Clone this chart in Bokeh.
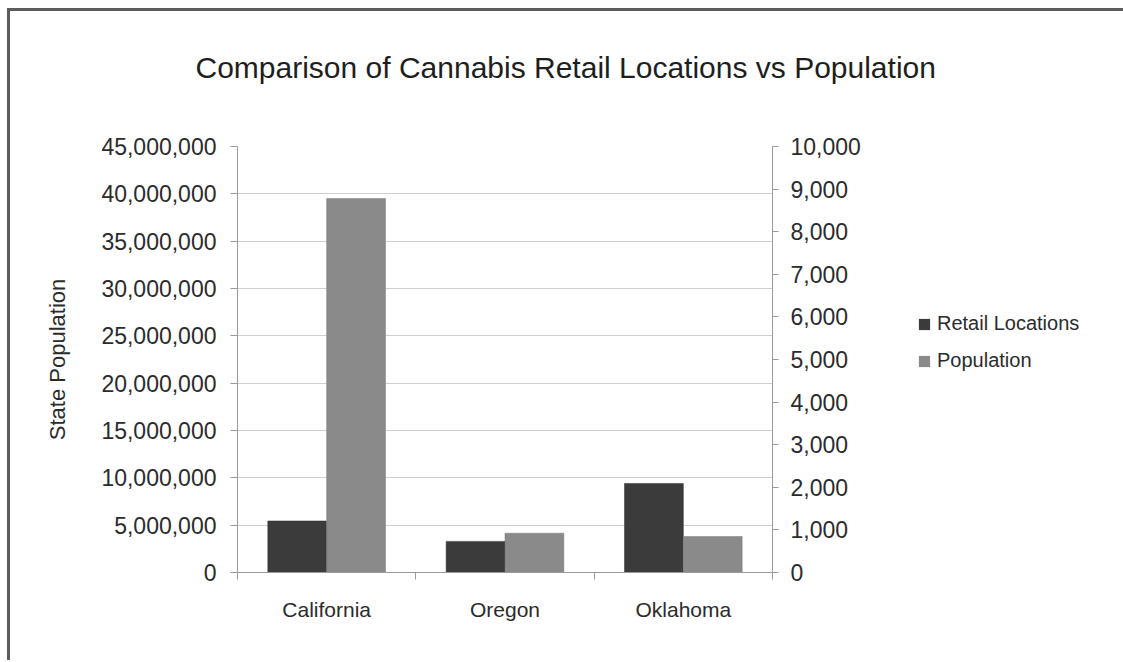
from bokeh.plotting import figure
from bokeh.layouts import row, column
from bokeh.models import (ColumnDataSource, Range1d, LinearAxis, FixedTicker,
                          NumeralTickFormatter, Legend, LegendItem, Title)
from bokeh.embed import file_html
from bokeh.resources import INLINE
import numpy as np

states = ["California", "Oregon", "Oklahoma"]
retail_locations = [1210, 730, 2090]
population = [39500000, 4150000, 3800000]
pop_ticks = list(range(0, 45000001, 5000000))
retail_ticks = list(range(0, 10001, 1000))
series_names = ["Retail Locations", "Population"]
series_colors = ["#3b3b3b", "#8a8a8a"]
title_text = "Comparison of Cannabis Retail Locations vs Population"

FONT = "Liberation Sans"
TXT = "#2b2b2b"

centers = np.arange(len(states)) + 0.5
src = ColumnDataSource(dict(
    xr=centers - 0.165, xp=centers + 0.165,
    retail=retail_locations, pop=population))

TOTAL_W, TOTAL_H = 1113, 649
TH = 120                     # title strip height
W, H = 872, TOTAL_H - TH     # chart figure
MB_TOP, MB_BOTTOM = 15, 88

def blank(fig):
    fig.axis.visible = False
    fig.grid.grid_line_color = None
    fig.outline_line_color = None
    fig.border_fill_color = "white"
    fig.background_fill_color = "white"

# ---- title strip ----
tf = figure(width=TOTAL_W, height=TH, output_backend="svg", toolbar_location=None,
            x_range=Range1d(0, 1), y_range=Range1d(0, 1),
            min_border_left=0, min_border_right=0, min_border_bottom=0,
            min_border_top=77)
blank(tf)
tf.add_layout(Title(text=title_text, align="left", offset=185, standoff=10,
                    text_font=FONT, text_font_size="30px", text_font_style="normal",
                    text_color="#1e1e1e"), "above")

# ---- chart ----
p = figure(width=W, height=H, output_backend="svg", toolbar_location=None,
           x_range=Range1d(0, len(states)), y_range=Range1d(0, 45000000),
           min_border_left=227, min_border_right=W - 762,
           min_border_top=MB_TOP, min_border_bottom=MB_BOTTOM)
p.outline_line_color = None
p.background_fill_color = "white"
p.border_fill_color = "white"
p.extra_y_ranges = {"right": Range1d(0, 10000)}

p.vbar(x="xr", top="retail", width=0.33, source=src, y_range_name="right",
       fill_color=series_colors[0], line_color="#2e2e2e", line_width=0.5)
p.vbar(x="xp", top="pop", width=0.33, source=src,
       fill_color=series_colors[1], line_color="#7a7a7a", line_width=0.5)

xa = p.xaxis[0]
xa.ticker = FixedTicker(ticks=list(centers), minor_ticks=list(range(len(states) + 1)))
xa.major_label_overrides = {float(c): s for c, s in zip(centers, states)}
xa.major_tick_out = 0
xa.major_tick_in = 0
xa.minor_tick_out = 7
xa.minor_tick_in = 0
xa.minor_tick_line_color = "#9a9a9a"
xa.axis_line_color = "#9a9a9a"
xa.major_label_text_font = FONT
xa.major_label_text_font_size = "21px"
xa.major_label_text_color = TXT
xa.major_label_standoff = 18

ya = p.yaxis[0]
ya.ticker = FixedTicker(ticks=pop_ticks)
ya.formatter = NumeralTickFormatter(format="0,0")
ya.minor_tick_line_color = None
ya.major_tick_out = 7
ya.major_tick_in = 0
ya.major_tick_line_color = "#9a9a9a"
ya.axis_line_color = "#9a9a9a"
ya.major_label_text_font = FONT
ya.major_label_text_font_size = "23px"
ya.major_label_text_color = TXT
ya.major_label_standoff = 14
ya.axis_label = "State Population"
ya.axis_label_text_font = FONT
ya.axis_label_text_font_size = "22px"
ya.axis_label_text_font_style = "normal"
ya.axis_label_text_color = TXT
ya.axis_label_standoff = 28

ra = LinearAxis(y_range_name="right", ticker=FixedTicker(ticks=retail_ticks),
                formatter=NumeralTickFormatter(format="0,0"))
ra.minor_tick_line_color = None
ra.major_tick_out = 6
ra.major_tick_in = 0
ra.major_tick_line_color = "#9a9a9a"
ra.axis_line_color = "#9a9a9a"
ra.major_label_text_font = FONT
ra.major_label_text_font_size = "23px"
ra.major_label_text_color = TXT
ra.major_label_standoff = 12
p.add_layout(ra, "right")

p.xgrid.grid_line_color = None
p.ygrid.grid_line_color = "#cfcfcf"
p.ygrid.grid_line_width = 1

# ---- legend strip (sample renderers hidden; only their legend swatches show) ----
LW = TOTAL_W - W
lf = figure(width=LW, height=H, output_backend="svg", toolbar_location=None,
            x_range=Range1d(0, len(states)), y_range=Range1d(-2e8, -1e8),
            min_border_left=0, min_border_top=MB_TOP, min_border_right=0,
            min_border_bottom=MB_BOTTOM)
blank(lf)
lr1 = lf.vbar(x="xr", top="retail", width=0.1, source=src,
              fill_color=series_colors[0], line_color=None)
lr2 = lf.vbar(x="xp", top="pop", width=0.1, source=src,
              fill_color=series_colors[1], line_color=None)
lr1.visible = False
lr2.visible = False
legend = Legend(items=[LegendItem(label=series_names[0], renderers=[lr1]),
                       LegendItem(label=series_names[1], renderers=[lr2])],
                location=(35, 200), orientation="vertical")
legend.border_line_color = None
legend.background_fill_alpha = 0
legend.inactive_fill_alpha = 0
legend.label_text_font = FONT
legend.label_text_font_size = "20px"
legend.label_text_color = TXT
legend.glyph_width = 14
legend.glyph_height = 14
legend.label_standoff = 6
legend.spacing = 14
legend.padding = 0
legend.margin = 0
lf.add_layout(legend, "center")

layout = column(tf, row(p, lf, spacing=0), spacing=0)
layout.styles = {"margin-left": "7px", "margin-top": "8px", "overflow": "hidden",
                 "border-top": "3px solid #5c5c5c", "border-left": "3px solid #5c5c5c"}

open("out.html", "w").write(file_html(layout, INLINE))
